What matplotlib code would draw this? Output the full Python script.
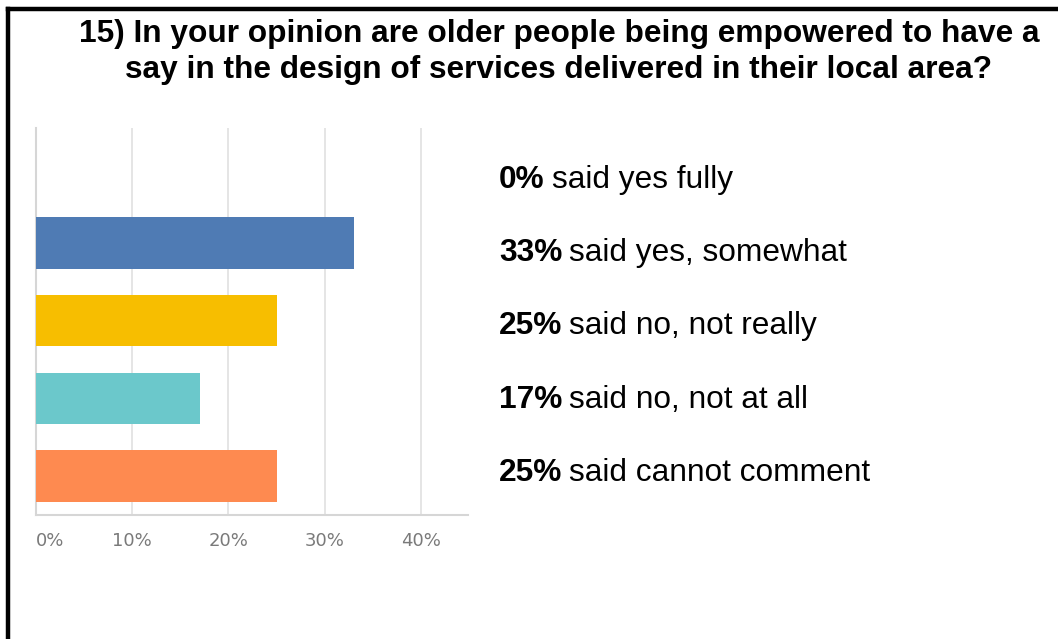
import matplotlib
matplotlib.use("Agg")
import matplotlib.pyplot as plt
from matplotlib.lines import Line2D

# Survey question 15 responses
categories = ["said yes fully", "said yes, somewhat", "said no, not really",
              "said no, not at all", "said cannot comment"]
percentages = [0, 33, 25, 17, 25]
bar_colors = ["#4f7bb4", "#4f7bb4", "#f7be00", "#6bc8cb", "#fe8a50"]
tick_values = [0, 10, 20, 30, 40]
tick_labels = ["0%", "10%", "20%", "30%", "40%"]
title = ("15) In your opinion are older people being empowered to have a\n"
         "say in the design of services delivered in their local area?")

W, H = 1058, 639
fig = plt.figure(figsize=(W / 100, H / 100), dpi=100)
fig.patch.set_facecolor("white")

# frame lines (left and top)
fig.add_artist(Line2D([8 / W, 8 / W], [0, 1 - 9 / H], color="black", lw=3.2,
                      solid_capstyle="projecting", transform=fig.transFigure))
fig.add_artist(Line2D([8 / W, 1], [1 - 9 / H, 1 - 9 / H], color="black", lw=3.2,
                      solid_capstyle="projecting", transform=fig.transFigure))

fig.text(559 / W, 1 - 52 / H, title, ha="center", va="center",
         fontsize=22.8, fontweight="bold", family="Liberation Sans",
         linespacing=1.22)

ax = fig.add_axes([36 / W, 1 - 515 / H, (468 - 36) / W, (515 - 128) / H])
ypos = list(range(len(categories)))
ax.barh(ypos, percentages, height=0.66, color=bar_colors, zorder=3)
ax.set_ylim(4.5, -0.48)
ax.set_xlim(0, 44.9)
ax.set_yticks([])
ax.set_xticks(tick_values)
ax.set_xticklabels(tick_labels, fontsize=13, color="#7a7a7a",
                   family="DejaVu Sans")
ax.get_xticklabels()[0].set_horizontalalignment("left")
ax.tick_params(axis="x", length=0, pad=12)
for v in tick_values[1:]:
    ax.axvline(v, color="#e3e3e3", lw=1.3, zorder=1)
for side in ["top", "right"]:
    ax.spines[side].set_visible(False)
ax.spines["left"].set_color("#d6d6d6")
ax.spines["left"].set_linewidth(1.5)
ax.spines["bottom"].set_color("#d6d6d6")
ax.spines["bottom"].set_linewidth(1.5)

# response summary text on the right
baselines = [188, 261, 334, 408, 481]
renderer = fig.canvas.get_renderer()
for pct, cat, yb in zip(percentages, categories, baselines):
    t = fig.text(499 / W, 1 - yb / H, f"{pct}%", ha="left", va="baseline",
                 fontsize=22.8, fontweight="bold", family="Liberation Sans")
    bb = t.get_window_extent(renderer=renderer)
    fig.text((bb.x1 + 7) / W, 1 - yb / H, cat, ha="left", va="baseline",
             fontsize=22.8, family="Liberation Sans")

fig.savefig("out.png", dpi=100, facecolor="white")
